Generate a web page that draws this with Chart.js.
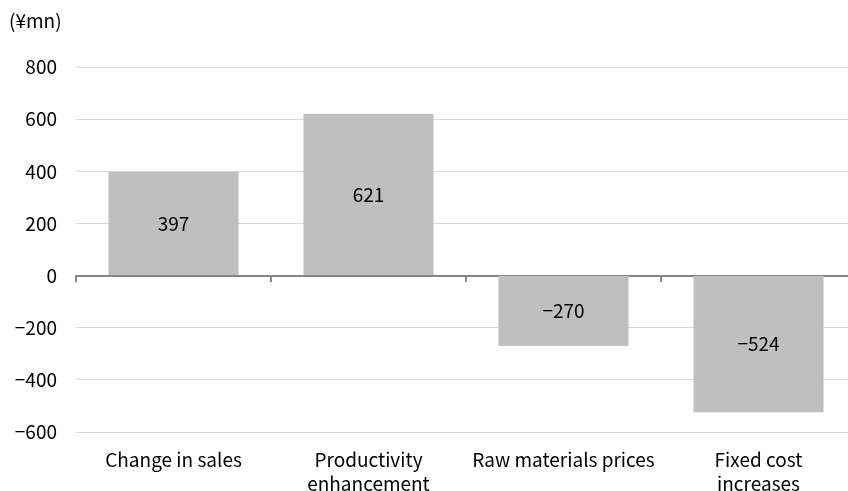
<!DOCTYPE html>
<html>
<head>
<meta charset="utf-8">
<script src="https://cdn.jsdelivr.net/npm/chart.js@4.4.1/dist/chart.umd.min.js"></script>
<style>
  html, body { margin: 0; padding: 0; background: #fff; overflow: hidden; }
  #wrap { width: 860px; height: 501px; }
</style>
</head>
<body>
<div id="wrap"><canvas id="c" width="860" height="501"></canvas></div>
<script>
// Operating profit change factors (¥mn)
const categories = [
  ["Change in sales"],
  ["Productivity", "enhancement"],
  ["Raw materials prices"],
  ["Fixed cost", "increases"]
];
const profitImpact = [397, 621, -270, -524];
const yTicks = { min: -600, max: 800, step: 200 };
const unitLabel = "(¥mn)";

const FONT = '"Noto Sans CJK JP", "Noto Sans", sans-serif';
const fmt = v => (v < 0 ? "\u2212" + Math.abs(v) : String(v));

// Unit caption above the value axis
const unitCaption = {
  id: "unitCaption",
  afterDraw(chart) {
    const ctx = chart.ctx;
    ctx.save();
    ctx.font = "19px " + FONT;
    ctx.fillStyle = "#000";
    ctx.textAlign = "left";
    ctx.textBaseline = "middle";
    ctx.fillText(unitLabel, 9, 21);
    ctx.restore();
  }
};

// Value labels centred inside each bar
const barValues = {
  id: "barValues",
  afterDatasetsDraw(chart) {
    const ctx = chart.ctx;
    const meta = chart.getDatasetMeta(0);
    ctx.save();
    ctx.font = "19px " + FONT;
    ctx.fillStyle = "#000";
    ctx.textAlign = "center";
    ctx.textBaseline = "middle";
    meta.data.forEach((bar, i) => {
      const v = chart.data.datasets[0].data[i];
      ctx.fillText(fmt(v), bar.x, (bar.y + bar.base) / 2);
    });
    ctx.restore();
  }
};

new Chart(document.getElementById("c"), {
  type: "bar",
  data: {
    labels: categories,
    datasets: [{
      data: profitImpact,
      backgroundColor: "#bfbfbf",
      borderWidth: 0,
      categoryPercentage: 1,
      barPercentage: 0.667,
      xAxisID: "x"
    }]
  },
  options: {
    responsive: false,
    animation: false,
    layout: { padding: { top: 67, left: 0, right: 4, bottom: 0 } },
    plugins: { legend: { display: false }, tooltip: { enabled: false } },
    scales: {
      x: {
        position: "bottom",
        grid: { display: false },
        border: { display: false },
        ticks: {
          color: "#000",
          font: { family: FONT, size: 19, lineHeight: 1.27 },
          padding: 8,
          maxRotation: 0,
          autoSkip: false
        },
        afterFit(scale) { scale.height = 69; }
      },
      xZero: {
        type: "category",
        position: { y: 0 },
        offset: true,
        grid: {
          display: true,
          offset: true,
          drawOnChartArea: false,
          drawTicks: true,
          tickLength: 5,
          color: "#868686",
          lineWidth: 2
        },
        border: { display: true, color: "#868686", width: 2 },
        ticks: { display: false }
      },
      y: {
        min: yTicks.min,
        max: yTicks.max,
        ticks: {
          stepSize: yTicks.step,
          color: "#000",
          font: { family: FONT, size: 19 },
          padding: 19,
          callback: v => fmt(v)
        },
        grid: {
          drawTicks: false,
          color: "#d9d9d9",
          lineWidth: 1
        },
        border: { display: false },
        afterFit(scale) { scale.width = 76; }
      }
    }
  },
  plugins: [unitCaption, barValues]
});
</script>
</body>
</html>
